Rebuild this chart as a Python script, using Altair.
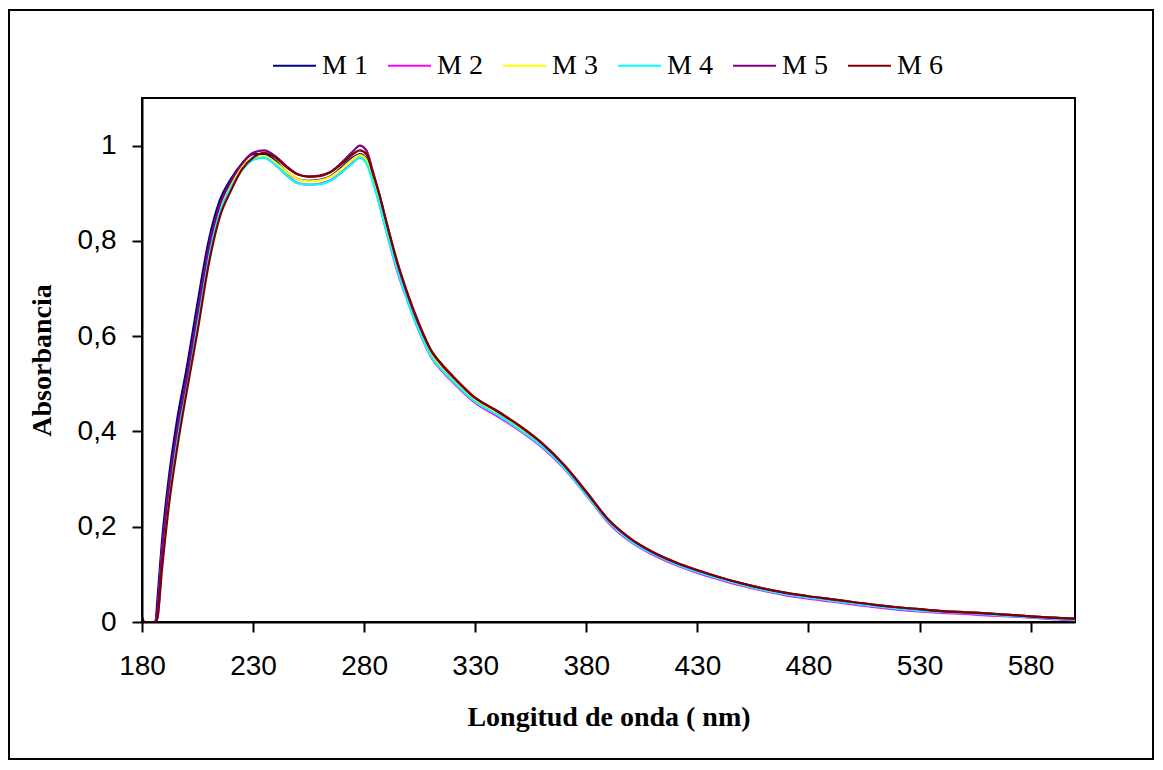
import altair as alt
import pandas as pd

wavelength = [180, 181, 186, 187, 189, 192, 196, 200, 205, 210, 215, 220, 225, 230, 235,
              240, 245, 250, 255, 260, 265, 270, 275, 278, 281, 284, 287, 290, 295, 300,
              305, 310, 315, 320, 330, 340, 350, 360, 370, 380, 390, 400, 410, 420, 430,
              440, 450, 460, 470, 480, 490, 500, 510, 520, 530, 540, 550, 560, 570, 580,
              590, 600]

m1 = [0.01, 0, 0, 0.05, 0.17, 0.30, 0.43, 0.53, 0.67, 0.80, 0.885, 0.93, 0.962, 0.982, 0.982,
      0.968, 0.945, 0.930, 0.926, 0.928, 0.936, 0.955, 0.975, 0.982, 0.972, 0.930, 0.885, 0.830, 0.745, 0.675,
      0.615, 0.565, 0.535, 0.510, 0.467, 0.439, 0.408, 0.373, 0.327, 0.270, 0.212, 0.172, 0.145, 0.124, 0.107,
      0.093, 0.080, 0.069, 0.060, 0.053, 0.047, 0.041, 0.035, 0.030, 0.026, 0.023, 0.021, 0.018, 0.015, 0.012,
      0.009, 0.006]
m2 = [0.01, 0, 0, 0.01, 0.13, 0.27, 0.40, 0.50, 0.63, 0.77, 0.86, 0.915, 0.95, 0.972, 0.975,
      0.960, 0.938, 0.922, 0.918, 0.920, 0.928, 0.945, 0.965, 0.975, 0.965, 0.925, 0.875, 0.820, 0.735, 0.668,
      0.607, 0.557, 0.527, 0.503, 0.460, 0.432, 0.402, 0.367, 0.322, 0.266, 0.208, 0.168, 0.141, 0.120, 0.103,
      0.089, 0.076, 0.065, 0.056, 0.049, 0.043, 0.037, 0.031, 0.026, 0.022, 0.019, 0.017, 0.014, 0.012, 0.009,
      0.006, 0.003]
m3 = [0.01, 0, 0, 0.02, 0.14, 0.27, 0.40, 0.50, 0.64, 0.78, 0.87, 0.92, 0.955, 0.975, 0.978,
      0.965, 0.945, 0.930, 0.925, 0.927, 0.935, 0.952, 0.972, 0.980, 0.970, 0.930, 0.885, 0.830, 0.745, 0.675,
      0.615, 0.565, 0.535, 0.510, 0.467, 0.439, 0.408, 0.373, 0.327, 0.270, 0.212, 0.172, 0.145, 0.124, 0.107,
      0.093, 0.080, 0.069, 0.060, 0.053, 0.047, 0.041, 0.035, 0.030, 0.026, 0.023, 0.021, 0.018, 0.015, 0.012,
      0.009, 0.006]
m4 = [0.01, 0, 0, 0.02, 0.14, 0.27, 0.39, 0.49, 0.63, 0.77, 0.86, 0.912, 0.948, 0.970, 0.975,
      0.960, 0.938, 0.921, 0.918, 0.919, 0.927, 0.944, 0.964, 0.975, 0.963, 0.922, 0.875, 0.820, 0.738, 0.668,
      0.608, 0.558, 0.529, 0.505, 0.462, 0.435, 0.404, 0.369, 0.324, 0.267, 0.210, 0.170, 0.143, 0.122, 0.105,
      0.091, 0.078, 0.067, 0.058, 0.051, 0.045, 0.039, 0.033, 0.028, 0.024, 0.021, 0.019, 0.016, 0.013, 0.010,
      0.007, 0.005]
m5 = [0.01, 0, 0, 0.03, 0.15, 0.28, 0.41, 0.51, 0.65, 0.785, 0.875, 0.925, 0.962, 0.985, 0.990,
      0.978, 0.957, 0.940, 0.935, 0.936, 0.945, 0.965, 0.988, 1.000, 0.990, 0.945, 0.895, 0.840, 0.752, 0.681,
      0.620, 0.570, 0.539, 0.514, 0.470, 0.442, 0.411, 0.375, 0.329, 0.272, 0.214, 0.174, 0.146, 0.125, 0.108,
      0.094, 0.081, 0.070, 0.061, 0.054, 0.048, 0.042, 0.036, 0.031, 0.027, 0.023, 0.021, 0.018, 0.015, 0.012,
      0.009, 0.007]
m6 = [0.01, 0, 0, 0.01, 0.11, 0.24, 0.37, 0.48, 0.61, 0.75, 0.85, 0.905, 0.95, 0.975, 0.985,
      0.975, 0.955, 0.940, 0.935, 0.937, 0.945, 0.962, 0.982, 0.990, 0.982, 0.940, 0.895, 0.840, 0.755, 0.684,
      0.623, 0.572, 0.541, 0.516, 0.471, 0.443, 0.412, 0.376, 0.330, 0.274, 0.215, 0.175, 0.147, 0.126, 0.109,
      0.094, 0.081, 0.070, 0.061, 0.054, 0.048, 0.042, 0.036, 0.031, 0.027, 0.023, 0.020, 0.018, 0.015, 0.012,
      0.009, 0.007]

series_names = ["M 1", "M 2", "M 3", "M 4", "M 5", "M 6"]
series_values = [m1, m2, m3, m4, m5, m6]
series_colors = ["#000080", "#FF00FF", "#FFFF00", "#00FFFF", "#800080", "#800000"]

x_ticks = [180, 230, 280, 330, 380, 430, 480, 530, 580]
y_ticks = [0, 0.2, 0.4, 0.6, 0.8, 1.0]

rows = []
for name, vals in zip(series_names, series_values):
    for w, v in zip(wavelength, vals):
        rows.append({"serie": name, "wl": w, "abs": v})
df = pd.DataFrame(rows)

lines = alt.Chart(df).mark_line(strokeWidth=2.2, interpolate="monotone").encode(
    x=alt.X("wl:Q",
            scale=alt.Scale(domain=[180, 600], nice=False, zero=False),
            axis=alt.Axis(values=x_ticks, title="Longitud de onda ( nm)", grid=False,
                          tickSize=10, labelPadding=20, titleY=103, labelFlush=False,
                          titleBaseline="alphabetic", zindex=1)),
    y=alt.Y("abs:Q",
            scale=alt.Scale(domain=[0, 1.1], nice=False),
            axis=alt.Axis(values=y_ticks, title="Absorbancia", grid=False,
                          tickSize=10, labelPadding=16, labelFlush=False,
                          labelExpr="replace(format(datum.value, '~g'), '.', ',')",
                          titleX=-92, titleBaseline="alphabetic", zindex=1)),
    color=alt.Color("serie:N",
                    scale=alt.Scale(domain=series_names, range=series_colors),
                    legend=alt.Legend(title=None, orient="none", direction="horizontal",
                                      legendX=130, legendY=-55,
                                      symbolType="stroke", symbolSize=1849,
                                      symbolStrokeWidth=2, labelOffset=5,
                                      columnPadding=16, padding=0,
                                      labelFont="Liberation Serif", labelFontSize=28,
                                      labelColor="black")),
    detail="serie:N",
)

frame = alt.Chart(alt.Data(values=[{"k": 1}])).mark_rect(
    fillOpacity=0, stroke="black", strokeWidth=2
).encode(
    x=alt.value(-133), x2=alt.value(1011), y=alt.value(-88), y2=alt.value(661)
)

chart = alt.layer(frame, lines).properties(
    width=933, height=524,
    autosize=alt.AutoSizeParams(type="none"),
    padding={"left": 134, "top": 90, "right": 80, "bottom": 138},
    background="white",
).configure_view(
    stroke="black", strokeWidth=2
).configure_axis(
    domainColor="black", domainWidth=2, tickColor="black", tickWidth=2,
    labelFont="Liberation Sans", labelFontSize=28, labelColor="black",
    titleFont="Liberation Serif", titleFontSize=28, titleFontWeight="bold",
    titleColor="black",
)

chart.save("out.html", embed_options={"renderer": "svg", "actions": False})
